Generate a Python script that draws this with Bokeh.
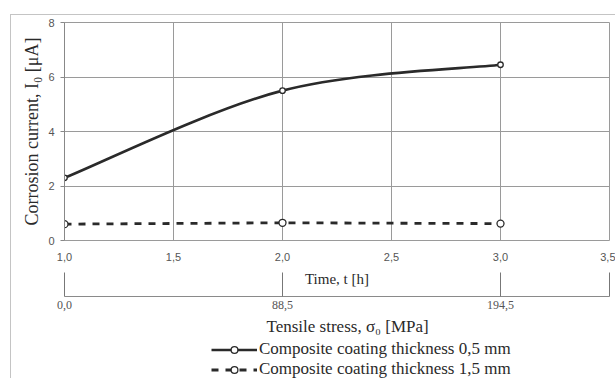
from bokeh.plotting import figure
from bokeh.layouts import column
from bokeh.models import (Range1d, FixedTicker, LinearAxis, CustomJSTickFormatter,
                          Legend, LegendItem, Title, InlineStyleSheet)
from bokeh.embed import file_html
from bokeh.resources import INLINE

# ---- data ----
time_h = [1.0, 2.0, 3.0]
current_05 = [2.3, 5.5, 6.45]
current_15 = [0.6, 0.65, 0.62]
time_ticks = [1.0, 1.5, 2.0, 2.5, 3.0, 3.5]
current_ticks = [0, 2, 4, 6, 8]
stress_tick_pos = [1.0, 2.0, 3.0, 3.5]
stress_tick_labels = ["0,0", "88,5", "194,5", ""]
label_05 = "Composite coating thickness 0,5 mm"
label_15 = "Composite coating thickness 1,5 mm"
y_title = "Corrosion current, I\u2080 [\u03bcA]"
x_title = "Time, t [h]"
x2_title = "Tensile stress, \u03c3\u2080 [MPa]"

GRID = "#9a9a9a"
INK = "#2a2a2a"
TICKC = "#555555"
SERIF = "Liberation Serif"
SANS = "Liberation Sans"

p = figure(width=615, height=339, output_backend="svg", toolbar_location=None,
           x_range=Range1d(1.0, 3.5), y_range=Range1d(0, 8),
           min_border_left=64, min_border_right=6, min_border_top=22,
           min_border_bottom=0)
p.outline_line_color = GRID

# primary x axis (time) - tick labels only
xa = p.xaxis[0]
xa.ticker = FixedTicker(ticks=time_ticks)
xa.formatter = CustomJSTickFormatter(code="return tick.toFixed(1).replace('.', ',');")
xa.axis_line_color = None
xa.major_tick_out = 0
xa.major_tick_in = 0
xa.minor_tick_out = 0
xa.minor_tick_in = 0
xa.major_label_standoff = 12
xa.major_label_text_font = SANS
xa.major_label_text_font_size = "11px"
xa.major_label_text_color = TICKC

# y axis
ya = p.yaxis[0]
ya.ticker = FixedTicker(ticks=current_ticks)
ya.axis_line_color = "#888888"
ya.major_tick_line_color = "#888888"
ya.major_tick_out = 4
ya.major_tick_in = 0
ya.minor_tick_out = 0
ya.minor_tick_in = 0
ya.major_label_standoff = 6
ya.major_label_text_font = SANS
ya.major_label_text_font_size = "11px"
ya.major_label_text_color = TICKC
ya.axis_label = y_title
ya.axis_label_text_font = SERIF
ya.axis_label_text_font_size = "18px"
ya.axis_label_text_font_style = "normal"
ya.axis_label_text_color = INK
ya.axis_label_standoff = 3

# grids
p.xgrid.ticker = FixedTicker(ticks=time_ticks)
p.ygrid.ticker = FixedTicker(ticks=current_ticks)
p.xgrid.grid_line_color = GRID
p.ygrid.grid_line_color = GRID

# "Time" title below the time tick labels
t_time = Title(text=x_title, align="center", vertical_align="top", offset=0,
               standoff=15, text_font=SERIF, text_font_size="15px",
               text_font_style="normal", text_color=INK)
p.add_layout(t_time, "below")

# secondary axis (tensile stress)
xb = LinearAxis(
    ticker=FixedTicker(ticks=stress_tick_pos),
    formatter=CustomJSTickFormatter(
        args=dict(pos=stress_tick_pos, labs=stress_tick_labels),
        code="""
        for (let i = 0; i < pos.length; i++) {
            if (Math.abs(pos[i] - tick) < 1e-6) return labs[i];
        }
        return '';
        """))
xb.axis_line_color = "#8a8a8a"
xb.major_tick_line_color = "#777777"
xb.major_tick_in = 24
xb.major_tick_out = 0
xb.minor_tick_in = 0
xb.minor_tick_out = 0
xb.major_label_standoff = 4
xb.major_label_text_font = SERIF
xb.major_label_text_font_size = "12px"
xb.major_label_text_color = TICKC
p.add_layout(xb, "below")

t_stress = Title(text=x2_title, align="left", vertical_align="bottom", offset=202,
                 standoff=7, text_font=SERIF, text_font_size="17px",
                 text_font_style="normal", text_color=INK)
p.add_layout(t_stress, "below")

# smoothed curve (Catmull-Rom -> cubic Bezier) from the data points
n = len(time_h)
x0, y0, x1, y1, cx0, cy0, cx1, cy1 = [], [], [], [], [], [], [], []
for i in range(n - 1):
    pm = (time_h[max(i - 1, 0)], current_05[max(i - 1, 0)])
    pa = (time_h[i], current_05[i])
    pb = (time_h[i + 1], current_05[i + 1])
    pn = (time_h[min(i + 2, n - 1)], current_05[min(i + 2, n - 1)])
    x0.append(pa[0]); y0.append(pa[1]); x1.append(pb[0]); y1.append(pb[1])
    cx0.append(pa[0] + (pb[0] - pm[0]) / 6.0)
    cy0.append(pa[1] + (pb[1] - pm[1]) / 6.0)
    cx1.append(pb[0] - (pn[0] - pa[0]) / 6.0)
    cy1.append(pb[1] - (pn[1] - pa[1]) / 6.0)

line05 = dict(line_color=INK, line_width=2.6)
mark05 = dict(marker="circle", size=5.5, fill_color="white", line_color=INK, line_width=1.3)
line15 = dict(line_color=INK, line_width=2.8, line_dash="7 7")
mark15 = dict(marker="circle", size=7, fill_color="white", line_color=INK, line_width=1.3)

p.bezier(x0=x0, y0=y0, x1=x1, y1=y1, cx0=cx0, cy0=cy0, cx1=cx1, cy1=cy1, **line05)
p.scatter(time_h, current_05, **mark05)
p.line(time_h, current_15, **line15)
p.scatter(time_h, current_15, **mark15)

# legend strip below the chart (its renderers lie outside its visible range)
q = figure(width=615, height=39, output_backend="svg", toolbar_location=None,
           x_range=Range1d(100, 101), y_range=Range1d(100, 101),
           x_axis_location=None, y_axis_location=None,
           min_border_left=0, min_border_right=0, min_border_top=0,
           min_border_bottom=0)
q.outline_line_color = None
q.xgrid.visible = False
q.ygrid.visible = False
g1 = q.line(time_h, current_05, **line05)
g2 = q.scatter(time_h, current_05, **mark05)
g3 = q.line(time_h, current_15, **line15)
g4 = q.scatter(time_h, current_15, **mark15)

legend = Legend(items=[LegendItem(label=label_05, renderers=[g1, g2]),
                       LegendItem(label=label_15, renderers=[g3, g4])],
                location="top_right")
legend.label_text_font = SERIF
legend.label_text_font_size = "17px"
legend.label_text_color = INK
legend.glyph_width = 46
legend.glyph_height = 17
legend.label_height = 17
legend.label_width = 350
legend.label_standoff = 2
legend.spacing = 0
legend.padding = 0
legend.margin = 0
legend.border_line_color = None
legend.background_fill_alpha = 0
q.add_layout(legend, "center")

layout = column(p, q, spacing=0)
layout.stylesheets = [InlineStyleSheet(css=""":host::after {
  content: ''; position: absolute; left: 10px; top: 14px; right: -4px; bottom: -4px;
  border: 1px solid #c4c4c4; pointer-events: none; }""")]

open("out.html", "w").write(file_html(layout, INLINE))
